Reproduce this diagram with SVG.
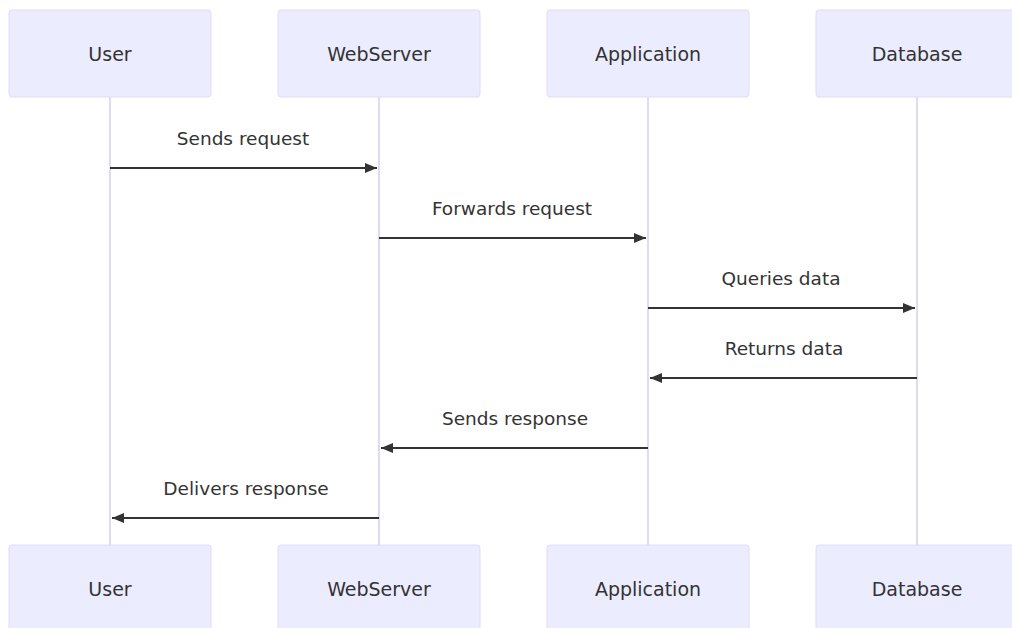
<svg xmlns="http://www.w3.org/2000/svg" width="1012" height="628" viewBox="0 0 1012 628">
<defs>
<style>
.actor{fill:#ECECFF;stroke:#E0DCF5;stroke-width:1}
.atext{font-family:"DejaVu Sans",sans-serif;font-size:19px;fill:#333;text-anchor:middle;dominant-baseline:central}
.life{stroke:#D4D0EC;stroke-width:1.5}
.msg{stroke:#333;stroke-width:2;fill:none}
.mtext{font-family:"DejaVu Sans",sans-serif;font-size:18.5px;fill:#333;text-anchor:middle}
</style>
<marker id="arr" viewBox="0 0 12 10" refX="12" refY="5" markerWidth="12" markerHeight="10" markerUnits="userSpaceOnUse" orient="auto">
<path d="M0,0 L12,5 L0,10 z" fill="#333"/>
</marker>
</defs>
<rect width="1012" height="628" fill="#fff"/>
<g id="lifelines">
<line class="life" x1="110" y1="97" x2="110" y2="545"/>
<line class="life" x1="379" y1="97" x2="379" y2="545"/>
<line class="life" x1="648" y1="97" x2="648" y2="545"/>
<line class="life" x1="917" y1="97" x2="917" y2="545"/>
</g>
<g id="user-top"><rect class="actor" x="9" y="10" width="202" height="87" rx="3"/><text class="atext" x="110" y="54">User</text></g>
<g id="webserver-top"><rect class="actor" x="278" y="10" width="202" height="87" rx="3"/><text class="atext" x="379" y="54">WebServer</text></g>
<g id="application-top"><rect class="actor" x="547" y="10" width="202" height="87" rx="3"/><text class="atext" x="648" y="54">Application</text></g>
<g id="database-top"><rect class="actor" x="816" y="10" width="202" height="87" rx="3"/><text class="atext" x="917" y="54">Database</text></g>
<g id="user-bottom"><rect class="actor" x="9" y="545" width="202" height="87" rx="3"/><text class="atext" x="110" y="589">User</text></g>
<g id="webserver-bottom"><rect class="actor" x="278" y="545" width="202" height="87" rx="3"/><text class="atext" x="379" y="589">WebServer</text></g>
<g id="application-bottom"><rect class="actor" x="547" y="545" width="202" height="87" rx="3"/><text class="atext" x="648" y="589">Application</text></g>
<g id="database-bottom"><rect class="actor" x="816" y="545" width="202" height="87" rx="3"/><text class="atext" x="917" y="589">Database</text></g>
<g id="connectors">
<line class="msg" x1="110" y1="168" x2="377" y2="168" marker-end="url(#arr)"/>
<text class="mtext" x="243" y="145">Sends request</text>
<line class="msg" x1="379" y1="238" x2="646" y2="238" marker-end="url(#arr)"/>
<text class="mtext" x="512" y="215">Forwards request</text>
<line class="msg" x1="648" y1="308" x2="915" y2="308" marker-end="url(#arr)"/>
<text class="mtext" x="781" y="285">Queries data</text>
<line class="msg" x1="917" y1="378" x2="650" y2="378" marker-end="url(#arr)"/>
<text class="mtext" x="784" y="355">Returns data</text>
<line class="msg" x1="648" y1="448" x2="381" y2="448" marker-end="url(#arr)"/>
<text class="mtext" x="515" y="425">Sends response</text>
<line class="msg" x1="379" y1="518" x2="112" y2="518" marker-end="url(#arr)"/>
<text class="mtext" x="246" y="495">Delivers response</text>
</g>
</svg>
